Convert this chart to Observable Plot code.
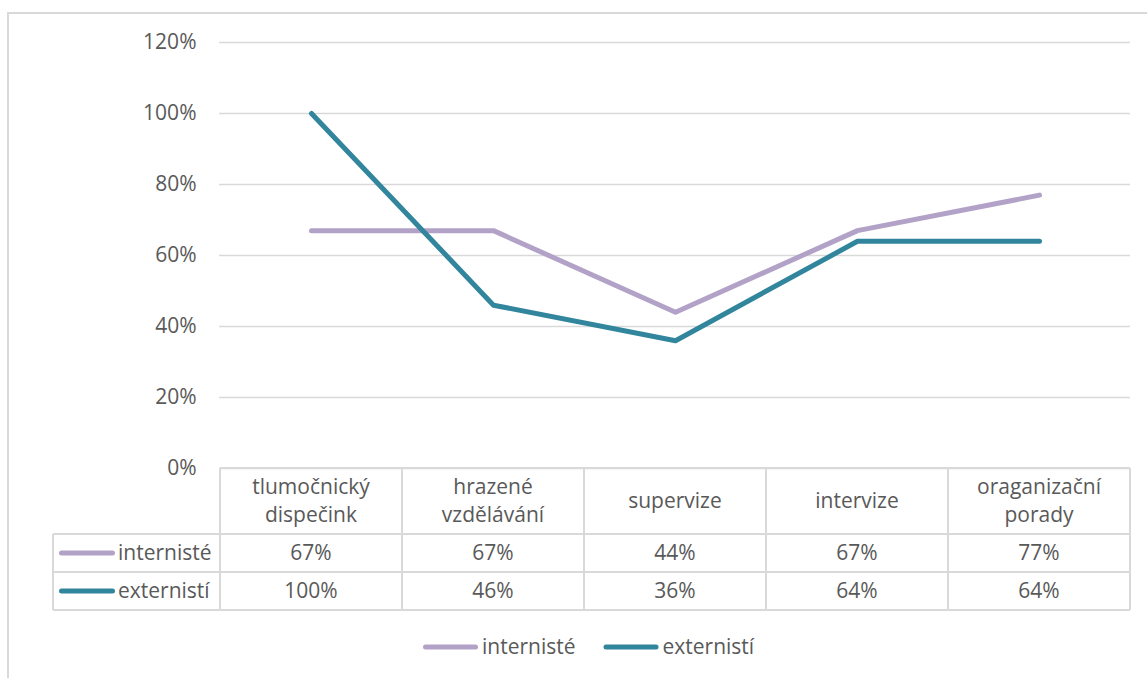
<!DOCTYPE html>
<html><head><meta charset="utf-8">
<script src="https://cdn.jsdelivr.net/npm/d3@7"></script>
<script src="https://cdn.jsdelivr.net/npm/@observablehq/plot@0.6"></script>
<style>
html,body{margin:0;padding:0;background:#fff;}
#chart{width:1147px;height:678px;overflow:hidden;background:#fff;}
</style></head><body><div id="chart"></div>
<script>
// ---- data ----
const categories = ["tlumočnický dispečink", "hrazené vzdělávání", "supervize", "intervize", "oraganizační porady"];
const categoryLines = [["tlumočnický", "dispečink"], ["hrazené", "vzdělávání"], ["supervize"], ["intervize"], ["oraganizační", "porady"]];
const seriesNames = ["internisté", "externistí"];
const interniste = [0.67, 0.67, 0.44, 0.67, 0.77];
const externisti = [1.00, 0.46, 0.36, 0.64, 0.64];
const seriesColors = ["#B3A2C7", "#31859C"];
const yTicks = [0, 0.2, 0.4, 0.6, 0.8, 1.0, 1.2];

const seriesValues = [interniste, externisti];
const data = seriesNames.flatMap((s, si) => categories.map((c, ci) => ({series: s, category: c, value: seriesValues[si][ci]})));
const pct = v => Math.round(v * 100) + "%";

const FONT = "'Open Sans', 'Noto Sans', sans-serif";
const FS = 21;
const TEXT = "#595959";
const LINE = "#D9D9D9";

function measure(t) {
  const c = document.createElement("canvas").getContext("2d");
  c.font = `${FS}px 'Open Sans'`;
  return c.measureText(t).width;
}

// table + legend drawn with the plot's own scales
function tableMark(index, scales, values, dimensions) {
  const x = scales.x, y = scales.y;
  const {width, height} = dimensions;
  const centers = categories.map(c => x(c));
  const step = centers[1] - centers[0];
  const left = centers[0] - step / 2;
  const right = centers[centers.length - 1] + step / 2;
  const top = y(0);
  const headerH = 66, rowH = 38, keyLeft = 53;
  const bottom = top + headerH + rowH * seriesNames.length;

  const g = d3.create("svg:g").attr("font-family", FONT).attr("font-size", FS).attr("fill", TEXT);

  // outer chart border
  g.append("path").attr("d", `M8,${height} V13 H${width}`).attr("fill", "none").attr("stroke", LINE).attr("stroke-width", 2);

  const lines = g.append("g").attr("stroke", LINE).attr("stroke-width", 2).attr("fill", "none");
  lines.append("line").attr("x1", left).attr("x2", right).attr("y1", top).attr("y2", top);
  for (let r = 0; r <= seriesNames.length; r++) {
    const yy = top + headerH + r * rowH;
    lines.append("line").attr("x1", keyLeft).attr("x2", right).attr("y1", yy).attr("y2", yy);
  }
  lines.append("line").attr("x1", keyLeft).attr("x2", keyLeft).attr("y1", top + headerH).attr("y2", bottom);
  for (let i = 0; i <= categories.length; i++) {
    const xx = left + i * step;
    lines.append("line").attr("x1", xx).attr("x2", xx).attr("y1", top).attr("y2", bottom);
  }

  // header labels
  categories.forEach((c, i) => {
    const ls = categoryLines[i];
    ls.forEach((t, j) => {
      g.append("text").attr("x", centers[i]).attr("text-anchor", "middle")
        .attr("y", top + headerH / 2 + (j - (ls.length - 1) / 2) * 28).attr("dy", "0.35em").text(t);
    });
  });

  // rows
  seriesNames.forEach((s, si) => {
    const cy = top + headerH + si * rowH + rowH / 2;
    g.append("line").attr("x1", 61.5).attr("x2", 112.5).attr("y1", cy).attr("y2", cy)
      .attr("stroke", seriesColors[si]).attr("stroke-width", 5).attr("stroke-linecap", "round");
    g.append("text").attr("x", 118).attr("y", cy).attr("dy", "0.35em").attr("text-anchor", "start").text(s);
    seriesValues[si].forEach((v, ci) => {
      g.append("text").attr("x", centers[ci]).attr("y", cy).attr("dy", "0.35em").attr("text-anchor", "middle").text(pct(v));
    });
  });

  // legend
  const ly = 647;
  let lx = 423;
  seriesNames.forEach((s, si) => {
    g.append("line").attr("x1", lx + 2.5).attr("x2", lx + 52.5).attr("y1", ly).attr("y2", ly)
      .attr("stroke", seriesColors[si]).attr("stroke-width", 5).attr("stroke-linecap", "round");
    g.append("text").attr("x", lx + 59).attr("y", ly).attr("dy", "0.35em").attr("text-anchor", "start").text(s);
    lx += 59 + measure(s) + 28;
  });
  return g.node();
}

const chart = Plot.plot({
  width: 1147,
  height: 678,
  marginLeft: 219,
  marginRight: 17,
  marginTop: 42,
  marginBottom: 210,
  style: {fontFamily: FONT, fontSize: FS + "px", color: TEXT, background: "#fff", overflow: "visible"},
  x: {type: "point", domain: categories, padding: 0.5, axis: null},
  y: {domain: [0, 1.2], axis: null},
  color: {domain: seriesNames, range: seriesColors},
  marks: [
    Plot.gridY(yTicks, {stroke: LINE, strokeOpacity: 1, strokeWidth: 1.5}),
    Plot.axisY(yTicks, {tickSize: 0, tickPadding: 23, tickFormat: pct, fontSize: FS, fill: TEXT, label: null}),
    tableMark,
    Plot.line(data, {x: "category", y: "value", stroke: "series", z: "series", strokeWidth: 5, strokeLinecap: "round", strokeLinejoin: "round"})
  ]
});
document.getElementById("chart").appendChild(chart);
</script>
</body></html>
